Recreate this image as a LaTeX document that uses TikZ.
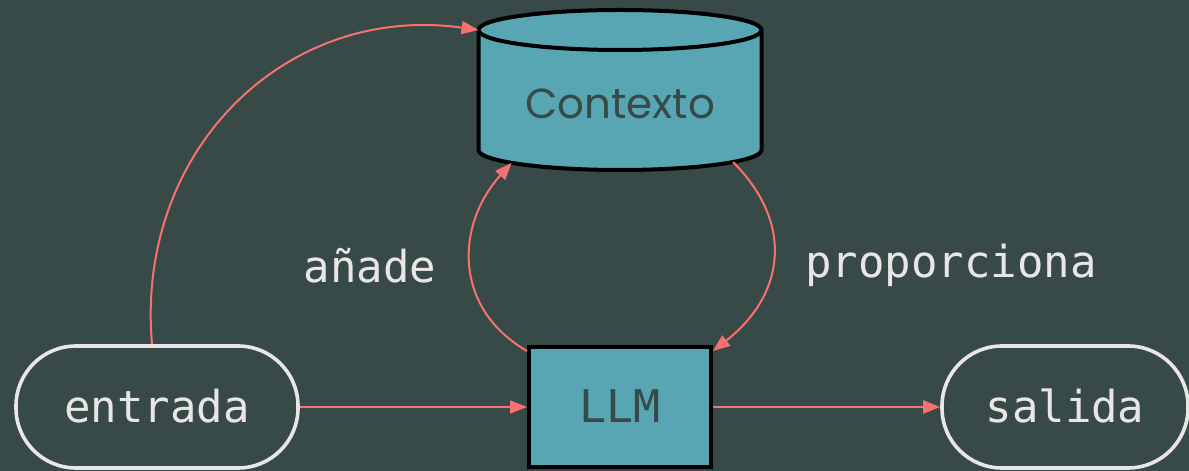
\documentclass[tikz,border=0pt]{standalone}
\usepackage{fontspec}
\setmonofont{DejaVu Sans Mono}
\newfontfamily\ctxfont{Poppins}
\usepackage{tikz}
\usetikzlibrary{arrows.meta,calc}
\definecolor{fondo}{HTML}{374A48}
\definecolor{azul}{HTML}{58A6B3}
\definecolor{salmon}{HTML}{F87171}
\definecolor{claro}{HTML}{EAE5E7}

\begin{document}
\begin{tikzpicture}[x=1pt,y=1pt,
		flecha/.style={draw=salmon,line width=2pt,-{Triangle[length=17pt,width=13pt]}},
		terminal/.style={draw=claro,line width=3.6pt,rounded corners=60pt,
			minimum height=122pt,text height=32pt,text depth=0pt,
			text=claro,font=\ttfamily\fontsize{44}{50}\selectfont},
		proceso/.style={draw=black,line width=4pt,fill=azul,
			minimum width=182pt,minimum height=120pt,text height=32pt,text depth=0pt,
			text=fondo,font=\ttfamily\fontsize{45}{50}\selectfont},
		cilindro/.style={draw=black,line width=4pt,fill=azul,line join=round},
		etiqueta/.style={anchor=base,text=claro,font=\ttfamily\fontsize{44}{50}\selectfont}]
	\fill[fondo] (0,0) rectangle (1189,471);
	\useasboundingbox (0,0) rectangle (1189,471);
	% cilindro
	\coordinate (ctxtop) at (620,441);
	\coordinate (ctxbot) at (620,321);
	\draw[cilindro] ($(ctxbot)+(-141.5,0)$) -- ($(ctxtop)+(-141.5,0)$)
		arc[start angle=180,end angle=0,x radius=141.5,y radius=20]
		-- ($(ctxbot)+(141.5,0)$)
		arc[start angle=0,end angle=-180,x radius=141.5,y radius=20] -- cycle;
	\draw[cilindro,fill=none] ($(ctxtop)+(-141.5,0)$)
		arc[start angle=180,end angle=360,x radius=141.5,y radius=20];
	\node[anchor=base,text=fondo,font=\ctxfont\fontsize{42}{50}\selectfont] (ctx) at (620,352) {Contexto};
	% nodos
	\node[terminal,minimum width=282pt] (entrada) at (157,64) {entrada};
	\node[proceso] (llm) at (620,64) {LLM};
	\node[terminal,minimum width=246pt] (salida) at (1065,64) {salida};
	\node[etiqueta] (anade) at (370,188) {añade};
	\node[etiqueta] (prop) at (951,193) {proporciona};
	% flechas
	\draw[flecha] (entrada) -- (llm);
	\draw[flecha] (llm) -- (salida);
	\draw[flecha] ([xshift=-5pt]entrada.north) to[out=95,in=172,looseness=1.1] ($(ctxtop)+(-141.5,0)$);
	\draw[flecha] ([yshift=-6pt]llm.north west) to[out=150,in=228,looseness=1.15] ($(ctxbot)+(220:141.5 and 20)$);
	\draw[flecha] ($(ctxbot)+(-37:141.5 and 20)$) to[out=-45,in=38,looseness=1.2] ([yshift=-6pt]llm.north east);
\end{tikzpicture}
\end{document}
